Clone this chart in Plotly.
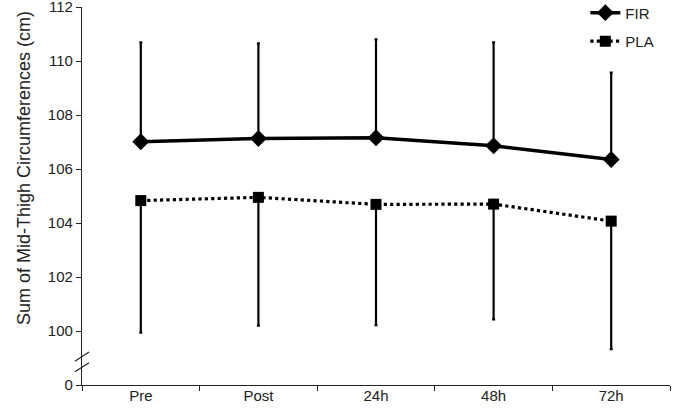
import plotly.graph_objects as go

# time points
times = ["Pre", "Post", "24h", "48h", "72h"]

# means (cm)
fir_mean = [107.01, 107.13, 107.16, 106.86, 106.35]
pla_mean = [104.83, 104.95, 104.69, 104.70, 104.07]

# SD bars (only drawn one way, as in the original)
fir_sd = [3.68, 3.52, 3.64, 3.83, 3.22]
pla_sd = [4.89, 4.75, 4.47, 4.27, 4.74]

# y ticks; the lowest one stands for 0 below the axis break
ytick_vals = [98, 100, 102, 104, 106, 108, 110, 112]
ytick_text = ["0", "100", "102", "104", "106", "108", "110", "112"]

font = "Liberation Sans, Arial, sans-serif"

fig = go.Figure()
fig.add_trace(go.Scatter(
    x=times, y=fir_mean, name="FIR", mode="lines+markers",
    line=dict(color="black", width=3.5),
    marker=dict(symbol="diamond", size=13, color="black"),
    error_y=dict(type="data", symmetric=False, array=fir_sd,
                 arrayminus=[0] * len(fir_sd), color="black",
                 thickness=2.2, width=1.5),
    legendgroup="a",
))
fig.add_trace(go.Scatter(
    x=times, y=pla_mean, name="PLA", mode="lines+markers",
    line=dict(color="black", width=3.2, dash="dot"),
    marker=dict(symbol="square", size=11, color="black"),
    error_y=dict(type="data", symmetric=False, array=[0] * len(pla_sd),
                 arrayminus=pla_sd, color="black",
                 thickness=2.2, width=1.5),
    legendgroup="b",
))

fig.update_xaxes(
    type="category", range=[-0.5, 4.5], automargin=False,
    showline=True, linecolor="#222", linewidth=1.2,
    ticks="outside", tickson="boundaries", ticklen=5, tickcolor="#222",
    showgrid=False, zeroline=False, ticklabelstandoff=-3,
    ticklabeloverflow="allow",
    tickfont=dict(family=font, size=15, color="#222"),
)
fig.update_yaxes(
    range=[98, 112], tickvals=ytick_vals, ticktext=ytick_text,
    automargin=False, ticklabeloverflow="allow",
    showline=True, linecolor="#222", linewidth=1.2,
    ticks="outside", ticklen=5, tickcolor="#222",
    showgrid=False, zeroline=False,
    tickfont=dict(family=font, size=15, color="#222"),
)

# y title, placed like the original (a bit above the axis middle)
fig.add_annotation(text="Sum of Mid-Thigh Circumferences (cm)",
                   xref="paper", yref="paper", x=-0.119, y=0.574,
                   textangle=-90, showarrow=False,
                   font=dict(family=font, size=18, color="#222"))

# axis break marks
for yb in [0.075, 0.047]:
    fig.add_shape(type="line", xref="paper", yref="paper",
                  x0=-0.012, x1=0.012, y0=yb - 0.012, y1=yb + 0.012,
                  line=dict(color="#222", width=1.2))

fig.update_layout(
    width=676, height=413,
    margin=dict(l=82, r=6, t=7, b=28, autoexpand=False),
    plot_bgcolor="white", paper_bgcolor="white",
    font=dict(family=font, size=15, color="#222"),
    legend=dict(x=0.856, y=1.028, xanchor="left", yanchor="top",
                bgcolor="rgba(0,0,0,0)", font=dict(size=15),
                itemwidth=30, tracegroupgap=6),
)

# drop the default page margin so the figure sits at the window's corner
fig.write_html("out.html", config={"displayModeBar": False},
               post_script="document.body.style.margin='0px';")
